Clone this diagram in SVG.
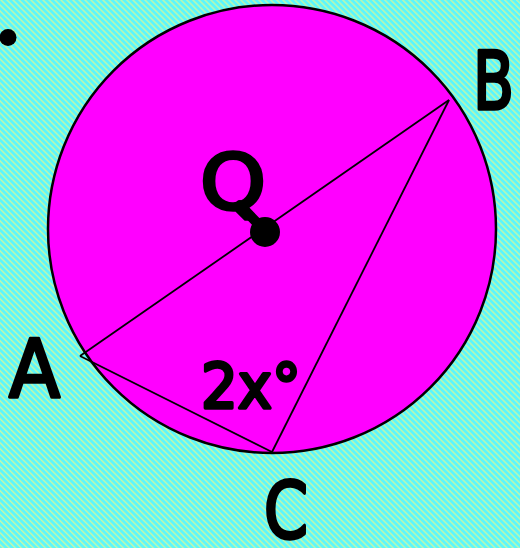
<svg xmlns="http://www.w3.org/2000/svg" width="520" height="548" viewBox="0 0 520 548">
  <defs>
    <pattern id="stripes" width="4.24" height="4.24" patternUnits="userSpaceOnUse" patternTransform="rotate(-45)">
      <rect width="4.24" height="4.24" fill="#5CF6FC"/>
      <rect width="1.4" height="4.24" fill="#C4F8A8"/>
    </pattern>
  </defs>
  <style>
    .lbl { font-family: "DejaVu Sans", "Liberation Sans", sans-serif; font-weight: normal; fill: #000; stroke: #000; stroke-width: 3.5; stroke-linejoin: round; stroke-linecap: round; }
    .edge { stroke: #000; stroke-width: 1.8; fill: none; }
  </style>
  <rect width="520" height="548" fill="url(#stripes)"/>
  <circle cx="8" cy="37.5" r="8.5" fill="#000"/>
  <g id="circle">
    <circle cx="272" cy="229" r="224" fill="#FF00FF" stroke="#000" stroke-width="2.5"/>
  </g>
  <g id="connectors">
    <line class="edge" x1="80" y1="356" x2="449" y2="100"/>
    <line class="edge" x1="449" y1="100" x2="272" y2="452"/>
    <line class="edge" x1="272" y1="452" x2="80" y2="356"/>
  </g>
  <g id="center-Q">
    <text class="lbl" x="200" y="209" font-size="76" textLength="66" lengthAdjust="spacingAndGlyphs">Q</text>
    <line x1="240" y1="205" x2="262" y2="228" stroke="#000" stroke-width="10" stroke-linecap="round"/>
    <circle cx="265" cy="232" r="15" fill="#000"/>
  </g>
  <g id="node-A"><text class="lbl" x="9" y="397" font-size="80" textLength="51" lengthAdjust="spacingAndGlyphs">A</text></g>
  <g id="node-B"><text class="lbl" x="473" y="109" font-size="80" textLength="41" lengthAdjust="spacingAndGlyphs">B</text></g>
  <g id="node-C"><text class="lbl" x="264" y="538" font-size="78" textLength="44" lengthAdjust="spacingAndGlyphs">C</text></g>
  <g id="angle-label"><text class="lbl" x="201" y="408" font-size="62" textLength="100" lengthAdjust="spacingAndGlyphs">2x°</text></g>
</svg>
